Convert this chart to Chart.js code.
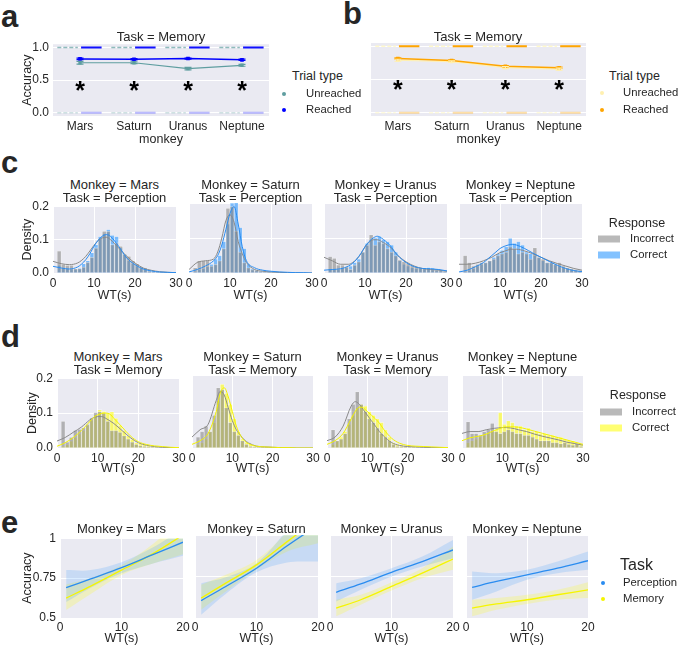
<!DOCTYPE html>
<html>
<head>
<meta charset="utf-8">
<script src="https://cdn.jsdelivr.net/npm/chart.js@4/dist/chart.umd.min.js"></script>
<style>
  body { margin: 0; background: #fff; }
  #fig { position: relative; width: 679px; height: 646px; overflow: hidden;
         font-family: 'Liberation Sans', Arial, sans-serif; color: #262626; }
  #fig canvas { position: absolute; }
  .t { position: absolute; white-space: nowrap; line-height: 1; }
  .dot { position: absolute; width: 4px; height: 4px; border-radius: 50%; transform: translate(-50%, -50%); }
  .sw { position: absolute; width: 22px; height: 7px; transform: translateY(-50%); }
</style>
</head>
<body>
<div id="fig"></div>
<script>
// ---- data: panels a / b (Task = Memory, accuracy per monkey) ----
const monkeys = ['Mars', 'Saturn', 'Uranus', 'Neptune'];
const accUnreachedA = [0.766, 0.766, 0.676, 0.727];
const errUnreachedA = [0.02, 0.015, 0.018, 0.015];
const accReachedA = [0.825, 0.82, 0.83, 0.81];
const errReachedA = [0.012, 0.01, 0.008, 0.01];
const accUnreachedB = [0.79, 0.77, 0.68, 0.655];
const errUnreachedB = [0.015, 0.012, 0.015, 0.015];
const accReachedB = [0.816, 0.786, 0.70, 0.676];
const errReachedB = [0.01, 0.01, 0.01, 0.01];
const starLevel = [0.43, 0.43, 0.43, 0.43];
const accTicks = [0, 0.5, 1];

// ---- data: histograms (density per 1 s bin of WT) ----
const binCenters = [1.5, 2.5, 3.5, 4.5, 5.5, 6.5, 7.5, 8.5, 9.5, 10.5, 11.5, 12.5, 13.5, 14.5, 15.5,
  16.5, 17.5, 18.5, 19.5, 20.5, 21.5, 22.5, 23.5, 24.5, 25.5, 26.5, 27.5, 28.5, 29.5];
const percMarsInc = [0.066,0.026,0.023,0.023,0.013,0.013,0.018,0.032,0.047,0.075,0.104,0.125,0.125,0.085,0.09,0.08,0.056,0.05,0.037,0.028,0.018,0.015,0.006,0.005,0.004,0.003,0.002,0.001,0.001];
const percMarsCor = [0.023,0.015,0.013,0.011,0.011,0.015,0.028,0.037,0.061,0.085,0.109,0.118,0.13,0.113,0.109,0.075,0.056,0.037,0.028,0.021,0.015,0.011,0.008,0.006,0.003,0.002,0.002,0.001,0.001];
const percSaturnInc = [0.015,0.035,0.035,0.035,0.02,0.025,0.035,0.07,0.185,0.19,0.12,0.06,0.03,0.015,0.01,0.008,0.005,0.003,0.003,0.002,0.002,0.001,0.001,0.001,0.001,0,0,0,0];
const percSaturnCor = [0.005,0.01,0.012,0.018,0.025,0.04,0.05,0.09,0.14,0.2,0.205,0.13,0.07,0.025,0.012,0.008,0.006,0.004,0.003,0.003,0.002,0.002,0.001,0.001,0.001,0.001,0,0,0];
const percUranusInc = [0.047,0.042,0.023,0.023,0.018,0.011,0.023,0.032,0.06,0.08,0.109,0.08,0.09,0.085,0.07,0.06,0.05,0.037,0.032,0.028,0.021,0.018,0.015,0.013,0.012,0.01,0.008,0.007,0.005];
const percUranusCor = [0.012,0.01,0.01,0.015,0.015,0.02,0.03,0.04,0.06,0.085,0.095,0.1,0.105,0.095,0.09,0.08,0.06,0.035,0.025,0.02,0.015,0.012,0.012,0.015,0.016,0.014,0.012,0.008,0.005];
const percNeptuneInc = [0.05,0.03,0.02,0.025,0.03,0.03,0.035,0.04,0.05,0.055,0.06,0.075,0.07,0.055,0.06,0.055,0.04,0.072,0.045,0.04,0.03,0.03,0.025,0.03,0.02,0.015,0.012,0.01,0.008];
const percNeptuneCor = [0.005,0.008,0.012,0.02,0.025,0.03,0.035,0.045,0.055,0.065,0.075,0.099,0.085,0.09,0.08,0.06,0.055,0.05,0.045,0.035,0.03,0.03,0.025,0.02,0.015,0.012,0.01,0.006,0.004];
const memMarsInc = [0.077,0.017,0.031,0.051,0.054,0.058,0.068,0.086,0.102,0.104,0.1,0.077,0.05,0.05,0.045,0.035,0.026,0.017,0.011,0.007,0.005,0.004,0.003,0.002,0.001,0.001,0,0,0];
const memMarsCor = [0.005,0.01,0.02,0.03,0.04,0.05,0.065,0.08,0.095,0.11,0.105,0.1,0.104,0.085,0.065,0.05,0.035,0.025,0.015,0.012,0.01,0.008,0.006,0.004,0.002,0.002,0.001,0.001,0];
const memSaturnInc = [0.03,0.045,0.06,0.045,0.09,0.165,0.16,0.11,0.07,0.045,0.035,0.02,0.01,0.005,0.004,0.003,0.002,0.002,0.001,0.001,0.001,0,0,0,0,0,0,0,0];
const memSaturnCor = [0.01,0.015,0.025,0.045,0.07,0.13,0.175,0.15,0.12,0.08,0.045,0.025,0.015,0.01,0.005,0.004,0.003,0.002,0.002,0.001,0.001,0.001,0,0,0,0,0,0,0];
const memUranusInc = [0.05,0.02,0.025,0.04,0.08,0.12,0.154,0.12,0.1,0.08,0.07,0.055,0.04,0.03,0.02,0.01,0.005,0.004,0.003,0.002,0.002,0.001,0.001,0.001,0,0,0,0,0];
const memUranusCor = [0.01,0.02,0.03,0.045,0.065,0.09,0.11,0.12,0.115,0.1,0.09,0.08,0.07,0.05,0.03,0.015,0.01,0.008,0.005,0.004,0.003,0.003,0.002,0.004,0.002,0.001,0.001,0,0];
const memNeptuneInc = [0.072,0.04,0.04,0.035,0.045,0.05,0.068,0.045,0.04,0.045,0.05,0.045,0.04,0.04,0.035,0.035,0.03,0.025,0.02,0.02,0.02,0.015,0.015,0.012,0.015,0.01,0.008,0.012,0.005];
const memNeptuneCor = [0.015,0.02,0.025,0.03,0.035,0.04,0.045,0.05,0.097,0.065,0.075,0.07,0.06,0.06,0.05,0.055,0.045,0.045,0.04,0.04,0.035,0.035,0.03,0.03,0.025,0.02,0.02,0.015,0.01];

// ---- data: KDE curves on a shared WT grid ----
const kdeGrid = [0, 2, 4, 6, 7, 8, 9, 10, 11, 12, 13, 14, 16, 18, 20, 22, 24, 26, 28, 30];
const kdePercMarsInc = [0.035,0.028,0.025,0.03,0.038,0.05,0.066,0.083,0.097,0.105,0.107,0.1,0.075,0.05,0.03,0.015,0.008,0.004,0.002,0.001];
const kdePercMarsCor = [0.02,0.015,0.012,0.018,0.027,0.04,0.058,0.08,0.098,0.11,0.115,0.11,0.08,0.045,0.025,0.012,0.006,0.003,0.002,0.001];
const kdePercSaturnInc = [0.01,0.03,0.035,0.04,0.06,0.1,0.15,0.166,0.145,0.09,0.055,0.03,0.01,0.005,0.003,0.002,0.001,0.001,0,0];
const kdePercSaturnCor = [0.003,0.01,0.02,0.035,0.05,0.08,0.125,0.17,0.19,0.14,0.075,0.035,0.015,0.008,0.005,0.003,0.002,0.001,0.001,0];
const kdePercUranusInc = [0.045,0.035,0.025,0.025,0.03,0.04,0.055,0.075,0.088,0.095,0.095,0.09,0.075,0.05,0.032,0.02,0.013,0.01,0.008,0.005];
const kdePercUranusCor = [0.008,0.01,0.012,0.02,0.028,0.04,0.056,0.075,0.09,0.1,0.105,0.1,0.08,0.05,0.03,0.018,0.013,0.012,0.01,0.006];
const kdePercNeptuneInc = [0.025,0.025,0.028,0.035,0.04,0.045,0.052,0.058,0.062,0.066,0.068,0.068,0.063,0.055,0.045,0.035,0.027,0.02,0.013,0.008];
const kdePercNeptuneCor = [0.003,0.008,0.018,0.03,0.04,0.05,0.06,0.07,0.076,0.08,0.082,0.08,0.07,0.057,0.045,0.033,0.022,0.013,0.007,0.004];
const kdeMemMarsInc = [0.02,0.03,0.045,0.06,0.07,0.08,0.087,0.09,0.09,0.085,0.078,0.07,0.05,0.03,0.015,0.008,0.004,0.002,0.001,0];
const kdeMemMarsCor = [0.005,0.015,0.03,0.05,0.062,0.075,0.087,0.095,0.099,0.1,0.097,0.085,0.06,0.035,0.018,0.01,0.006,0.004,0.002,0.001];
const kdeMemSaturnInc = [0.03,0.05,0.065,0.13,0.155,0.145,0.11,0.075,0.05,0.035,0.022,0.014,0.005,0.003,0.002,0.001,0.001,0,0,0];
const kdeMemSaturnCor = [0.01,0.02,0.04,0.1,0.15,0.165,0.14,0.1,0.06,0.035,0.02,0.012,0.005,0.003,0.002,0.001,0.001,0,0,0];
const kdeMemUranusInc = [0.02,0.03,0.06,0.115,0.127,0.12,0.105,0.09,0.075,0.06,0.045,0.033,0.015,0.007,0.004,0.003,0.002,0.001,0.001,0];
const kdeMemUranusCor = [0.01,0.02,0.04,0.08,0.1,0.112,0.11,0.1,0.09,0.08,0.068,0.052,0.027,0.013,0.007,0.005,0.004,0.003,0.002,0.001];
const kdeMemNeptuneInc = [0.04,0.045,0.045,0.05,0.052,0.054,0.055,0.056,0.056,0.055,0.053,0.05,0.045,0.038,0.032,0.027,0.022,0.016,0.012,0.008];
const kdeMemNeptuneCor = [0.02,0.028,0.032,0.038,0.043,0.048,0.052,0.056,0.058,0.058,0.058,0.057,0.052,0.046,0.04,0.034,0.028,0.022,0.016,0.01];
const densityTicks = [0, 0.1, 0.2];
const wtTicksHist = [0, 10, 20, 30];

// ---- data: panel e (fitted accuracy vs WT with 95% band) ----
const wtFit = [1, 5, 10, 15, 20];
const fitMarsPerc = [0.69, 0.745, 0.815, 0.895, 0.975];
const fitMarsPercLo = [0.60, 0.69, 0.78, 0.84, 0.89];
const fitMarsPercHi = [0.80, 0.80, 0.85, 0.94, 1.06];
const fitMarsMem = [0.625, 0.70, 0.80, 0.90, 1.02];
const fitMarsMemLo = [0.55, 0.65, 0.77, 0.84, 0.90];
const fitMarsMemHi = [0.71, 0.75, 0.83, 0.96, 1.13];
const fitSaturnPerc = [0.605, 0.69, 0.80, 0.935, 1.06];
const fitSaturnPercLo = [0.52, 0.645, 0.775, 0.835, 0.84];
const fitSaturnPercHi = [0.71, 0.745, 0.83, 1.03, 1.25];
const fitSaturnMem = [0.62, 0.71, 0.82, 0.96, 1.1];
const fitSaturnMemLo = [0.55, 0.66, 0.79, 0.90, 0.95];
const fitSaturnMemHi = [0.70, 0.76, 0.85, 1.02, 1.25];
const fitUranusPerc = [0.655, 0.705, 0.775, 0.84, 0.91];
const fitUranusPercLo = [0.60, 0.67, 0.75, 0.81, 0.86];
const fitUranusPercHi = [0.71, 0.74, 0.80, 0.87, 0.97];
const fitUranusMem = [0.56, 0.61, 0.69, 0.77, 0.855];
const fitUranusMemLo = [0.51, 0.58, 0.665, 0.74, 0.79];
const fitUranusMemHi = [0.61, 0.64, 0.715, 0.80, 0.93];
const fitNeptunePerc = [0.685, 0.72, 0.76, 0.80, 0.845];
const fitNeptunePercLo = [0.61, 0.66, 0.73, 0.77, 0.79];
const fitNeptunePercHi = [0.78, 0.77, 0.79, 0.84, 0.90];
const fitNeptuneMem = [0.56, 0.585, 0.61, 0.64, 0.67];
const fitNeptuneMemLo = [0.51, 0.55, 0.585, 0.61, 0.62];
const fitNeptuneMemHi = [0.61, 0.62, 0.64, 0.67, 0.715];
const fitAccTicks = [0.5, 0.75, 1];
const wtTicksFit = [0, 10, 20];

// ---- style ----
const FONT = "'Liberation Sans', Arial, sans-serif";
const TXT = '#262626';
const TICK = 12, LAB = 12.5, LEG = 11.3;
Chart.defaults.font.family = FONT;
Chart.defaults.color = TXT;
Chart.defaults.animation = false;

Chart.register({
  id: 'darkgridBg',
  beforeDraw(chart) {
    const a = chart.chartArea, ctx = chart.ctx;
    ctx.save();
    ctx.fillStyle = '#eaeaf2';
    ctx.fillRect(a.left, a.top, a.right - a.left, a.bottom - a.top);
    ctx.restore();
  }
});

const fig = document.getElementById('fig');

function text(str, x, y, size, center, weight) {
  const d = document.createElement('div');
  d.className = 't';
  d.textContent = str;
  d.style.fontSize = size + 'px';
  d.style.left = x + 'px';
  d.style.top = y + 'px';
  d.style.transform = center ? 'translate(-50%,-50%)' : 'translateY(-50%)';
  if (weight) d.style.fontWeight = weight;
  fig.appendChild(d);
}
function dot(x, y, color) {
  const d = document.createElement('div');
  d.className = 'dot';
  d.style.left = x + 'px'; d.style.top = y + 'px'; d.style.background = color;
  fig.appendChild(d);
}
function swatch(x, y, color) {
  const d = document.createElement('div');
  d.className = 'sw';
  d.style.left = x + 'px'; d.style.top = y + 'px'; d.style.background = color;
  fig.appendChild(d);
}

function fixedTicks(values) {
  return s => { s.ticks = values.map(v => ({ value: v })); };
}

// plot = [left, top, right, bottom] of the plot area on the page, m = [left, top, right, bottom] margins
function makeChart(plot, m, type, datasets, xs, ys, plugins) {
  const c = document.createElement('canvas');
  c.width = plot[2] - plot[0] + m[0] + m[2];
  c.height = plot[3] - plot[1] + m[1] + m[3];
  c.style.left = (plot[0] - m[0]) + 'px';
  c.style.top = (plot[1] - m[1]) + 'px';
  fig.appendChild(c);
  xs.afterFit = s => { s.height = m[3]; };
  ys.afterFit = s => { s.width = m[0]; };
  return new Chart(c, {
    type: type,
    data: { datasets: datasets },
    options: {
      responsive: false,
      animation: false,
      layout: { padding: { top: m[1], right: m[2], left: 0, bottom: 0 } },
      plugins: { legend: { display: false }, tooltip: { enabled: false } },
      scales: { x: xs, y: ys }
    },
    plugins: plugins || []
  });
}

function xAxis(min, max, ticks, fmt, gridOn, title, pad) {
  return {
    type: 'linear', min: min, max: max, offset: false,
    afterBuildTicks: fixedTicks(ticks),
    border: { display: false },
    grid: { display: gridOn, color: '#ffffff', lineWidth: 1, drawTicks: false, offset: false },
    ticks: { font: { size: TICK }, padding: pad, maxRotation: 0, autoSkip: false, callback: fmt },
    title: { display: !!title, text: title, font: { size: LAB }, padding: 0 }
  };
}
function yAxis(min, max, ticks, fmt, showLabels, title) {
  return {
    type: 'linear', min: min, max: max,
    afterBuildTicks: fixedTicks(ticks),
    border: { display: false },
    grid: { color: '#ffffff', lineWidth: 1, drawTicks: false },
    ticks: { display: showLabels, font: { size: TICK }, padding: 4, callback: fmt },
    title: { display: !!title, text: title, font: { size: LAB }, padding: 0 }
  };
}

// ---------- panels a and b ----------
const errorBars = {
  id: 'errorBars',
  afterDatasetsDraw(chart) {
    const { ctx, scales: { x, y } } = chart;
    chart.data.datasets.forEach(ds => {
      if (!ds.errors) return;
      ctx.save();
      ctx.strokeStyle = ds.borderColor;
      ctx.lineWidth = 1.2;
      ds.data.forEach((p, i) => {
        const px = x.getPixelForValue(p.x);
        const lo = y.getPixelForValue(p.y - ds.errors[i]);
        const hi = y.getPixelForValue(p.y + ds.errors[i]);
        ctx.beginPath();
        ctx.moveTo(px, lo); ctx.lineTo(px, hi);
        ctx.moveTo(px - 3.5, lo); ctx.lineTo(px + 3.5, lo);
        ctx.moveTo(px - 3.5, hi); ctx.lineTo(px + 3.5, hi);
        ctx.stroke();
      });
      ctx.restore();
    });
  }
};
const stars = {
  id: 'stars',
  afterDatasetsDraw(chart) {
    const { ctx, scales: { x, y } } = chart;
    ctx.save();
    ctx.font = 'bold 25px ' + FONT;
    ctx.fillStyle = '#000';
    ctx.textAlign = 'center';
    ctx.textBaseline = 'alphabetic';
    starLevel.forEach((v, i) => ctx.fillText('*', x.getPixelForValue(i), y.getPixelForValue(v) + 14));
    ctx.restore();
  }
};

function strip(level, from, to) {
  const pts = [];
  monkeys.forEach((m, i) => {
    pts.push({ x: i + from, y: level }, { x: i + to, y: level }, { x: i + to, y: null });
  });
  return pts;
}
function meanLine(values, errs, color, width) {
  return {
    type: 'line', data: values.map((v, i) => ({ x: i, y: v })), errors: errs,
    borderColor: color, backgroundColor: color, borderWidth: width,
    pointRadius: 1.5, pointStyle: 'rect', tension: 0
  };
}
function stripLine(level, from, to, color, width, dash) {
  return {
    type: 'line', data: strip(level, from, to), borderColor: color, borderWidth: width,
    borderDash: dash || [], pointRadius: 0, spanGaps: false
  };
}

const catFmt = v => monkeys[v];
const accFmt = v => v.toFixed(1);

makeChart([53, 43, 269, 116], [33, 10, 12, 31], 'line', [
  meanLine(accReachedA, errReachedA, '#0000ff', 1.5),
  meanLine(accUnreachedA, errUnreachedA, '#5f9ea0', 1.2),
  stripLine(1, 0.02, 0.4, '#1010ff', 2),
  stripLine(0, 0.02, 0.4, 'rgba(60,60,255,0.35)', 2),
  stripLine(1, -0.42, -0.04, 'rgba(95,158,160,0.7)', 1.5, [4, 2]),
  stripLine(0, -0.42, -0.04, 'rgba(95,158,160,0.3)', 1.5, [4, 2])
], xAxis(-0.5, 3.5, [0, 1, 2, 3], catFmt, false, 'monkey', 3),
   yAxis(-0.05, 1.05, accTicks, accFmt, true, 'Accuracy'), [errorBars, stars]);

makeChart([371, 43, 586, 116], [12, 10, 12, 31], 'line', [
  meanLine(accReachedB, errReachedB, '#ffa500', 1.5),
  meanLine(accUnreachedB, errUnreachedB, '#fff0b0', 1.2),
  stripLine(1, 0.02, 0.4, '#ffa500', 2),
  stripLine(0, 0.02, 0.4, 'rgba(255,165,0,0.35)', 2),
  stripLine(1, -0.42, -0.04, 'rgba(255,248,200,0.9)', 1.5, [4, 2]),
  stripLine(0, -0.42, -0.04, 'rgba(255,248,200,0.6)', 1.5, [4, 2])
], xAxis(-0.5, 3.5, [0, 1, 2, 3], catFmt, false, 'monkey', 3),
   yAxis(-0.05, 1.05, accTicks, accFmt, false, ''), [errorBars, stars]);

// ---------- panels c and d (histograms with KDE) ----------
function histChart(plot, m, inc, cor, kInc, kCor, corColor, corLine, showY) {
  const bars = (vals, color) => ({
    type: 'bar', data: vals.map((v, i) => ({ x: binCenters[i], y: v })),
    backgroundColor: color, borderColor: 'rgba(255,255,255,0.55)', borderWidth: 0.6,
    grouped: false, barPercentage: 1, categoryPercentage: 1
  });
  const kde = (vals, color) => ({
    type: 'line', data: vals.map((v, i) => ({ x: kdeGrid[i], y: v })),
    borderColor: color, borderWidth: 1, pointRadius: 0, cubicInterpolationMode: 'monotone'
  });
  makeChart(plot, m, 'bar', [
    kde(kCor, corLine), kde(kInc, '#8a8a8a'),
    bars(inc, 'rgba(128,128,128,0.55)'), bars(cor, corColor)
  ], xAxis(0, 30, wtTicksHist, v => v, true, 'WT(s)', 3),
     yAxis(0, 0.2, densityTicks, v => v.toFixed(1), showY, showY ? 'Density' : ''));
}

const BLUE_BAR = 'rgba(30,144,255,0.55)', BLUE_LINE = '#2a8cf0';
const YEL_BAR = 'rgba(255,255,0,0.55)', YEL_LINE = '#f2f200';

histChart([53, 203, 176, 273], [33, 8, 12, 30], percMarsInc, percMarsCor, kdePercMarsInc, kdePercMarsCor, BLUE_BAR, BLUE_LINE, true);
histChart([189, 203, 312, 273], [12, 8, 12, 30], percSaturnInc, percSaturnCor, kdePercSaturnInc, kdePercSaturnCor, BLUE_BAR, BLUE_LINE, false);
histChart([324, 203, 447, 273], [12, 8, 12, 30], percUranusInc, percUranusCor, kdePercUranusInc, kdePercUranusCor, BLUE_BAR, BLUE_LINE, false);
histChart([459, 203, 582, 273], [12, 8, 12, 30], percNeptuneInc, percNeptuneCor, kdePercNeptuneInc, kdePercNeptuneCor, BLUE_BAR, BLUE_LINE, false);

histChart([57, 375, 179, 448], [32, 8, 12, 28], memMarsInc, memMarsCor, kdeMemMarsInc, kdeMemMarsCor, YEL_BAR, YEL_LINE, true);
histChart([192, 375, 313, 448], [12, 8, 12, 28], memSaturnInc, memSaturnCor, kdeMemSaturnInc, kdeMemSaturnCor, YEL_BAR, YEL_LINE, false);
histChart([327, 375, 448, 448], [12, 8, 12, 28], memUranusInc, memUranusCor, kdeMemUranusInc, kdeMemUranusCor, YEL_BAR, YEL_LINE, false);
histChart([462, 375, 583, 448], [12, 8, 12, 28], memNeptuneInc, memNeptuneCor, kdeMemNeptuneInc, kdeMemNeptuneCor, YEL_BAR, YEL_LINE, false);

// ---------- panel e (fits with confidence bands) ----------
function fitChart(plot, m, perc, percLo, percHi, mem, memLo, memHi, showY) {
  const pts = vals => vals.map((v, i) => ({ x: wtFit[i], y: v }));
  const line = (vals, color) => ({
    data: pts(vals), borderColor: color, borderWidth: 1.3, pointRadius: 0, tension: 0.35, fill: false
  });
  const band = (vals, fill, color) => ({
    data: pts(vals), borderWidth: 0, borderColor: 'rgba(0,0,0,0)', pointRadius: 0,
    tension: 0.35, fill: fill, backgroundColor: color
  });
  makeChart(plot, m, 'line', [
    line(perc, '#2a8cf0'), line(mem, '#f5f500'),
    band(percHi, '+1', 'rgba(30,144,255,0.17)'), band(percLo, false, 'rgba(0,0,0,0)'),
    band(memHi, '+1', 'rgba(255,255,0,0.2)'), band(memLo, false, 'rgba(0,0,0,0)')
  ], xAxis(0, 20, wtTicksFit, v => v, true, 'WT(s)', 2),
     yAxis(0.5, 1, fitAccTicks, v => String(v), showY, showY ? 'Accuracy' : ''));
}

fitChart([60, 535, 183, 618], [40, 8, 12, 28], fitMarsPerc, fitMarsPercLo, fitMarsPercHi, fitMarsMem, fitMarsMemLo, fitMarsMemHi, true);
fitChart([195, 535, 318, 618], [12, 8, 12, 28], fitSaturnPerc, fitSaturnPercLo, fitSaturnPercHi, fitSaturnMem, fitSaturnMemLo, fitSaturnMemHi, false);
fitChart([330, 535, 453, 618], [12, 8, 12, 28], fitUranusPerc, fitUranusPercLo, fitUranusPercHi, fitUranusMem, fitUranusMemLo, fitUranusMemHi, false);
fitChart([466, 535, 588, 618], [12, 8, 12, 28], fitNeptunePerc, fitNeptunePercLo, fitNeptunePercHi, fitNeptuneMem, fitNeptuneMemLo, fitNeptuneMemHi, false);

// ---------- titles, panel letters, legends ----------
const letters = [['a', 1, 16], ['b', 343, 13], ['c', 1, 162], ['d', 1, 336], ['e', 1, 522]];
letters.forEach(l => text(l[0], l[1], l[2], 31, false, 'bold'));

text('Task = Memory', 161, 36, 13, true);
text('Task = Memory', 478, 36, 13, true);

const cCenters = [114.5, 250.5, 385.5, 520.5];
const dCenters = [118, 252.5, 387.5, 522.5];
const eCenters = [121.5, 256.5, 391.5, 527];
monkeys.forEach((m, i) => {
  text('Monkey = ' + m, cCenters[i], 184, 13, true);
  text('Task = Perception', cCenters[i], 197, 13, true);
  text('Monkey = ' + m, dCenters[i], 356, 13, true);
  text('Task = Memory', dCenters[i], 369, 13, true);
  text('Monkey = ' + m, eCenters[i], 528, 13, true);
});

// legend a
text('Trial type', 292, 76, 12.5, false);
dot(284, 94, '#5f9ea0'); text('Unreached', 306, 94, LEG, false);
dot(284, 110, '#0000ff'); text('Reached', 306, 110, LEG, false);
// legend b
text('Trial type', 609, 76, 12.5, false);
dot(602, 93, '#fff0b0'); text('Unreached', 623, 93, LEG, false);
dot(602, 110, '#ffa500'); text('Reached', 623, 110, LEG, false);
// legend c
text('Response', 637, 223, 12.5, true);
swatch(598, 239, 'rgba(128,128,128,0.55)'); text('Incorrect', 630, 239, LEG, false);
swatch(598, 255, BLUE_BAR); text('Correct', 630, 255, LEG, false);
// legend d
text('Response', 638, 395, 12.5, true);
swatch(600, 412, 'rgba(128,128,128,0.55)'); text('Incorrect', 632, 412, LEG, false);
swatch(600, 428, YEL_BAR); text('Correct', 632, 428, LEG, false);
// legend e
text('Task', 620, 565, 16, false);
dot(603, 583, '#2a8cf0'); text('Perception', 623, 583, LEG, false);
dot(603, 599, '#f5f500'); text('Memory', 623, 599, LEG, false);
</script>
</body>
</html>
